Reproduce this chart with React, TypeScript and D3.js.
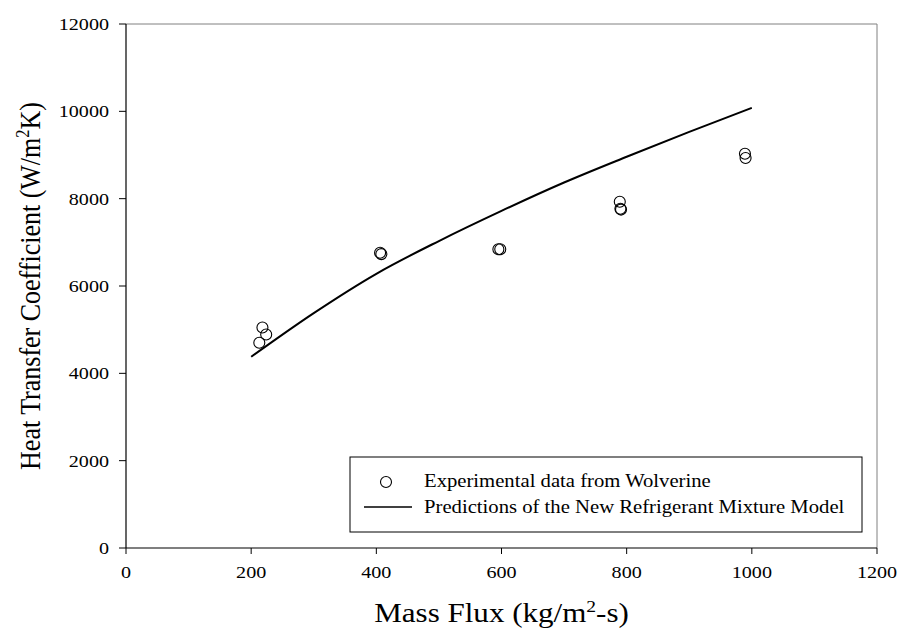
import React from "react";
import * as d3 from "d3";

const xTicks = [0, 200, 400, 600, 800, 1000, 1200];
const yTicks = [0, 2000, 4000, 6000, 8000, 10000, 12000];

const expFlux = [213, 218, 224, 406, 408, 595, 598, 789, 790, 791, 989, 990];
const expHtc = [4700, 5050, 4890, 6760, 6730, 6840, 6840, 7930, 7770, 7750, 9030, 8930];

const modelFlux = [200, 300, 400, 500, 600, 700, 800, 900, 1000];
const modelHtc = [4380, 5380, 6280, 7030, 7720, 8370, 8960, 9530, 10080];

const W = 900;
const H = 633;
const M = { left: 126, right: 877, top: 24, bottom: 548 };
const FONT = "'Liberation Serif', 'Times New Roman', serif";
const SX = 1.15;

function T(props: { x: number; y: number; size: number; anchor?: string; children: React.ReactNode; rotate?: number }) {
  const { x, y, size, anchor, children, rotate } = props;
  return (
    <g transform={`translate(${x},${y}) scale(${SX},1)${rotate ? ` rotate(${rotate})` : ""}`}>
      <text x={0} y={0} fontSize={size} textAnchor={anchor || "start"} fill="#000">
        {children}
      </text>
    </g>
  );
}

export default function App() {
  const x = d3.scaleLinear().domain([0, 1200]).range([M.left, M.right]);
  const y = d3.scaleLinear().domain([0, 12000]).range([M.bottom, M.top]);
  const line = d3
    .line<number>()
    .x((_, i) => x(modelFlux[i]))
    .y((d) => y(d))
    .curve(d3.curveMonotoneX);

  return (
    <svg width={W} height={H} style={{ position: "absolute", left: 0, top: 0, background: "#fff" }} fontFamily={FONT}>
      <rect x={0} y={0} width={W} height={H} fill="#fff" />
      {/* frame */}
      <line x1={M.left} x2={M.right} y1={M.top} y2={M.top} stroke="#808080" strokeWidth={1} />
      <line x1={M.right} x2={M.right} y1={M.top} y2={M.bottom} stroke="#808080" strokeWidth={1} />
      <line x1={M.left} x2={M.right} y1={M.bottom} y2={M.bottom} stroke="#000" strokeWidth={1.2} />
      <line x1={M.left} x2={M.left} y1={M.top} y2={M.bottom} stroke="#000" strokeWidth={1.2} />
      {/* x ticks */}
      {xTicks.map((t) => (
        <g key={"x" + t}>
          <line x1={x(t)} x2={x(t)} y1={M.bottom} y2={M.bottom + 6} stroke="#000" />
          <T x={x(t)} y={M.bottom + 30} size={17.5} anchor="middle">
            {t}
          </T>
        </g>
      ))}
      {/* y ticks */}
      {yTicks.map((t) => (
        <g key={"y" + t}>
          <line x1={M.left - 7} x2={M.left} y1={y(t)} y2={y(t)} stroke="#000" />
          <T x={M.left - 17} y={y(t) + 6} size={17.5} anchor="end">
            {t}
          </T>
        </g>
      ))}
      {/* model curve */}
      <path d={line(modelHtc) || ""} fill="none" stroke="#000" strokeWidth={2} />
      {/* experimental points */}
      {expFlux.map((f, i) => (
        <circle key={"p" + i} cx={x(f)} cy={y(expHtc[i])} r={5.5} fill="none" stroke="#000" strokeWidth={1.1} />
      ))}
      {/* legend */}
      <rect x={350} y={457} width={512} height={75} fill="#fff" stroke="#000" strokeWidth={1} />
      <circle cx={386} cy={482} r={5.5} fill="none" stroke="#000" strokeWidth={1.1} />
      <T x={424} y={487} size={18}>Experimental data from Wolverine</T>
      <line x1={364} x2={412} y1={507} y2={507} stroke="#000" strokeWidth={1.5} />
      <T x={424} y={513} size={18}>Predictions of the New Refrigerant Mixture Model</T>
      {/* axis titles */}
      <T x={(M.left + M.right) / 2} y={622} size={27} anchor="middle">
        Mass Flux (kg/m<tspan dy={-10} fontSize={17}>2</tspan><tspan dy={10}>-s)</tspan>
      </T>
      <T x={40} y={(M.top + M.bottom) / 2} size={26} anchor="middle" rotate={-90}>
        Heat Transfer Coefficient (W/m<tspan dy={-10} fontSize={16.5}>2</tspan><tspan dy={10}>K)</tspan>
      </T>
    </svg>
  );
}
